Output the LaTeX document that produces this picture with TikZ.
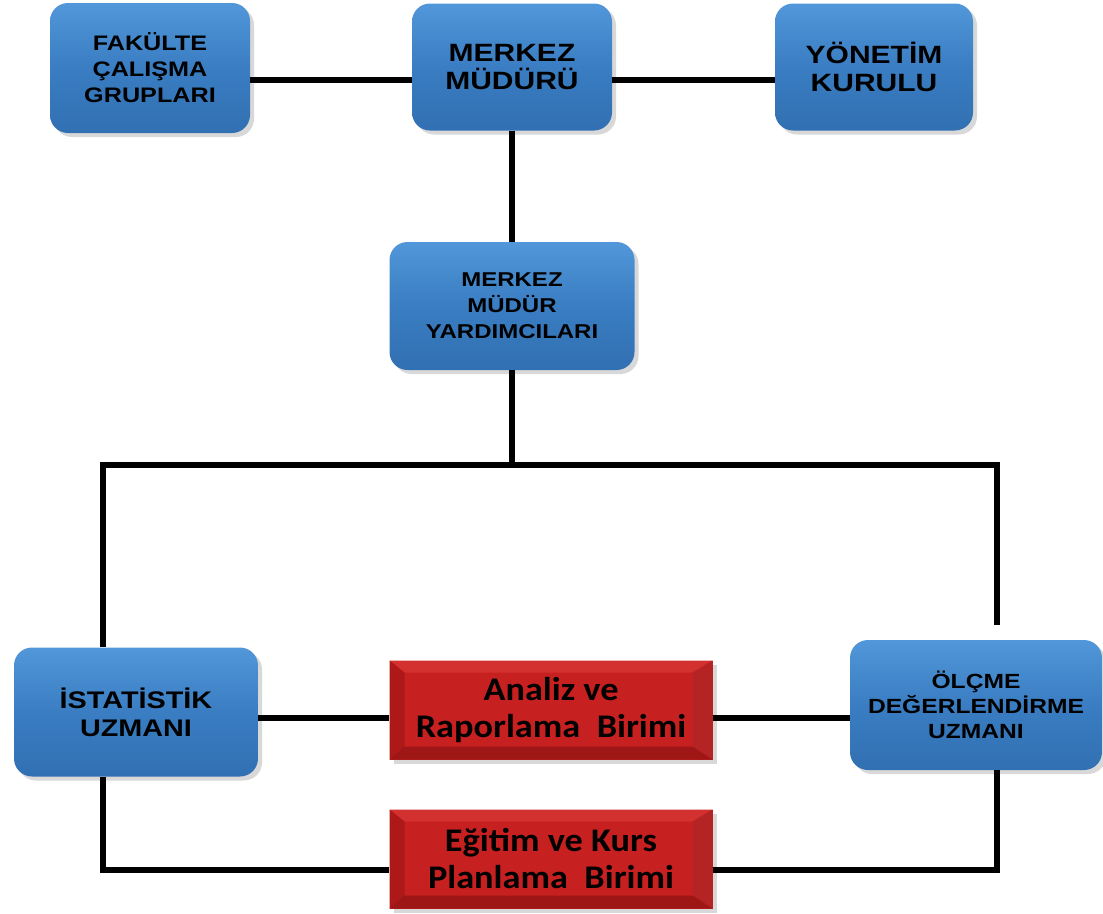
\documentclass[tikz,border=0pt]{standalone}
\usepackage{fontspec}
\usepackage{tikz}
\usetikzlibrary{shadows}
\usetikzlibrary{calc}

\newfontfamily\boxfont{Liberation Sans}[FakeStretch=1.2]
\newfontfamily\unitfont{Carlito}[FakeStretch=1.1]

\definecolor{boxtop}{HTML}{5297DA}
\definecolor{boxmid}{HTML}{3A7DC2}
\definecolor{boxbot}{HTML}{3170B2}
\definecolor{unitface}{HTML}{C62020}
\definecolor{unittop}{HTML}{D33030}
\definecolor{unitleft}{HTML}{AD1919}
\definecolor{unitright}{HTML}{B52424}
\definecolor{unitbot}{HTML}{9E1616}

\tikzset{
  orgbox/.style={rectangle, rounded corners=18pt, top color=boxtop, bottom color=boxbot,
    middle color=boxmid, inner sep=0pt, align=center, text=black,
    drop shadow={shadow xshift=4pt, shadow yshift=-4pt, fill=black!30}},
  boxtext/.style 2 args={font=\boxfont\bfseries\fontsize{#1}{#2}\selectfont},
  unitbox/.style={rectangle, fill=unitface, inner sep=0pt, minimum width=323pt,
    minimum height=99pt, align=center, text=black,
    font=\unitfont\bfseries\fontsize{33}{37}\selectfont,
    drop shadow={shadow xshift=4pt, shadow yshift=-4pt, fill=black!30},
    path picture={
      \coordinate (nw) at (path picture bounding box.north west);
      \coordinate (ne) at (path picture bounding box.north east);
      \coordinate (sw) at (path picture bounding box.south west);
      \coordinate (se) at (path picture bounding box.south east);
      \fill[unittop] (nw) -- (ne) -- ($(ne)+(-20pt,-12pt)$) -- ($(nw)+(15pt,-12pt)$) -- cycle;
      \fill[unitleft] (nw) -- ($(nw)+(15pt,-12pt)$) -- ($(sw)+(15pt,13pt)$) -- (sw) -- cycle;
      \fill[unitright] (ne) -- (se) -- ($(se)+(-20pt,13pt)$) -- ($(ne)+(-20pt,-12pt)$) -- cycle;
      \fill[unitbot] (sw) -- ($(sw)+(15pt,13pt)$) -- ($(se)+(-20pt,13pt)$) -- (se) -- cycle;
    }},
  conn/.style={line width=6pt}
}

\begin{document}
\begin{tikzpicture}[x=1pt, y=-1pt]
\useasboundingbox (0,0) rectangle (1103,913);

% Top row
\node[orgbox, boxtext={21}{26}, minimum width=200pt, minimum height=130pt] (fak) at (150,68) {FAKÜLTE\\ÇALIŞMA\\GRUPLARI};
\node[orgbox, boxtext={25}{28}, minimum width=200pt, minimum height=127pt] (mm) at (512,67) {MERKEZ\\MÜDÜRÜ};
\node[orgbox, boxtext={25}{28}, minimum width=198pt, minimum height=127pt] (yon) at (874,67) {YÖNETİM\\KURULU};

% Middle
\node[orgbox, boxtext={20}{26}, minimum width=245pt, minimum height=128pt] (yard) at (512,306) {MERKEZ\\MÜDÜR\\YARDIMCILARI};

% Bottom row
\node[orgbox, boxtext={24}{28}, minimum width=244pt, minimum height=129pt] (ist) at (136,712) {İSTATİSTİK\\UZMANI};
\node[orgbox, boxtext={20.5}{25}, minimum width=252pt, minimum height=130pt] (olc) at (976,705) {ÖLÇME\\DEĞERLENDİRME\\UZMANI};
\node[unitbox] (ana) at (551,710) {Analiz ve\\Raporlama\ \ Birimi};
\node[unitbox] (egt) at (551,859) {Eğitim ve Kurs\\Planlama\ \ Birimi};

% Helper points
\coordinate (topline) at (0,80);
\coordinate (busL) at (103,465);
\coordinate (busM) at (512,465);
\coordinate (busR) at (997,465);
\coordinate (midline) at (0,718);
\coordinate (botL) at (103,870);
\coordinate (botR) at (997,870);

% Edges
\draw[conn] (fak.east |- topline) -- (mm.west |- topline);
\draw[conn] (mm.east |- topline) -- (yon.west |- topline);
\draw[conn] (mm) -- (yard);
\draw[conn] (yard) -- (busM);
\draw[conn] (ist.north -| busL) -- (busL) -- (busR) -- ($(olc.north -| busR)+(0,-15)$);
\draw[conn] (ist.east |- midline) -- (ana.west |- midline);
\draw[conn] (ana.east |- midline) -- (olc.west |- midline);
\draw[conn] (ist.south -| botL) -- (botL) -- (egt.west |- botL);
\draw[conn] (egt.east |- botR) -- (botR) -- (olc.south -| botR);
\end{tikzpicture}
\end{document}
